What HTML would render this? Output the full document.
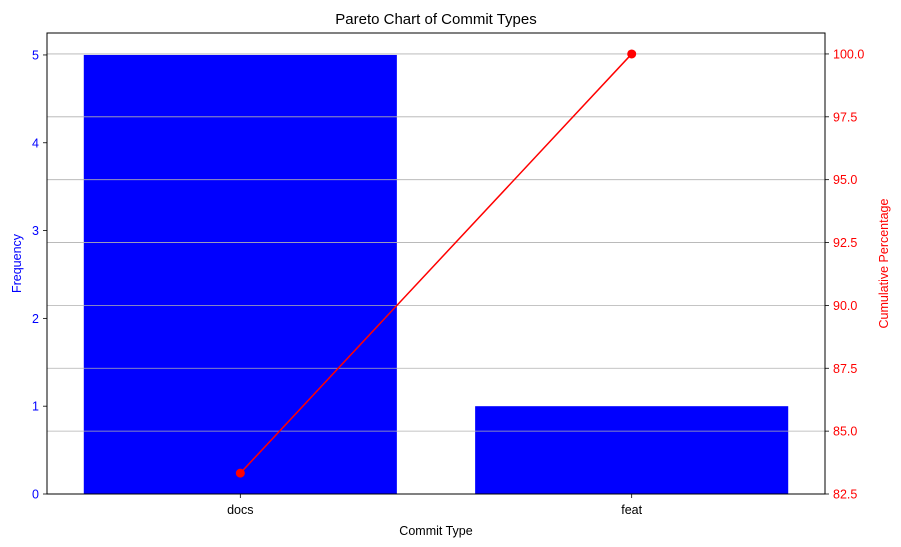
<!DOCTYPE html>
<html><head><meta charset="utf-8"><style>
body{margin:0;background:#fff;}
svg{display:block;font-family:"Liberation Sans","DejaVu Sans",sans-serif;}
</style></head><body>
<svg id="chart" width="901" height="547" viewBox="0 0 901 547"></svg>
<script>
const categories = ["docs", "feat"];
const frequencies = [5, 1];
const cumulativePct = [83.33, 100];
const leftTicks = [0, 1, 2, 3, 4, 5];
const rightTicks = [82.5, 85.0, 87.5, 90.0, 92.5, 95.0, 97.5, 100.0];

const svg = document.getElementById('chart');
const NS = 'http://www.w3.org/2000/svg';
const L = 47, R = 825, T = 33, B = 494;
const xMin = -0.494, xMax = 1.494;
const yLMin = 0, yLMax = 5.25;
const yRMin = 82.5, yRMax = 100.833;
const xS = v => L + (v - xMin) / (xMax - xMin) * (R - L);
const yL = v => B - (v - yLMin) / (yLMax - yLMin) * (B - T);
const yR = v => B - (v - yRMin) / (yRMax - yRMin) * (B - T);

function mk(tag, attrs, text) {
  const e = document.createElementNS(NS, tag);
  for (const k in attrs) e.setAttribute(k, attrs[k]);
  if (text !== undefined) e.textContent = text;
  svg.appendChild(e);
  return e;
}

categories.forEach((c, i) => {
  const b = mk('rect', {x: xS(i - 0.4), y: yL(frequencies[i]), width: xS(i + 0.4) - xS(i - 0.4), height: B - yL(frequencies[i]), fill: '#0000ff'});
  
  
});

rightTicks.forEach(t => {
  const g = mk('line', {x1: L, x2: R, y1: yR(t), y2: yR(t), stroke: '#b0b0b0', 'stroke-width': 0.8});
  
  
});

const pts = cumulativePct.map((v, i) => xS(i) + ',' + yR(v)).join(' ');
const pl = mk('polyline', {points: pts, fill: 'none', stroke: '#ff0000', 'stroke-width': 1.5});


cumulativePct.forEach((v, i) => {
  const c = mk('circle', {cx: xS(i), cy: yR(v), r: 4.5, fill: '#ff0000'});
  
  
});

const fr = mk('rect', {x: L, y: T, width: R - L, height: B - T, fill: 'none', stroke: '#000', 'stroke-width': 1});



leftTicks.forEach(t => {
  const y = yL(t);
  mk('line', {x1: L - 4, x2: L, y1: y, y2: y, stroke: '#000', 'stroke-width': 0.8});
  const tx = mk('text', {x: L - 8, y: y + 4.5, 'text-anchor': 'end', 'font-size': 12.5, fill: '#0000ff'}, String(t));
  
  
});
rightTicks.forEach(t => {
  const y = yR(t);
  mk('line', {x1: R, x2: R + 4, y1: y, y2: y, stroke: '#000', 'stroke-width': 0.8});
  const tx = mk('text', {x: R + 8, y: y + 4.5, 'text-anchor': 'start', 'font-size': 12.5, fill: '#ff0000'}, t.toFixed(1));
  
  
});
categories.forEach((c, i) => {
  const x = xS(i);
  mk('line', {x1: x, x2: x, y1: B, y2: B + 4, stroke: '#000', 'stroke-width': 0.8});
  const tx = mk('text', {x: x, y: B + 20, 'text-anchor': 'middle', 'font-size': 12.5, fill: '#000'}, c);
  
  
});

const ttl = mk('text', {x: (L + R) / 2, y: 24, 'text-anchor': 'middle', 'font-size': 15, fill: '#000'}, 'Pareto Chart of Commit Types');


const xt = mk('text', {x: (L + R) / 2, y: 535, 'text-anchor': 'middle', 'font-size': 12.5, fill: '#000'}, 'Commit Type');


const ylt = mk('text', {x: 0, y: 0, 'text-anchor': 'middle', 'font-size': 12.5, fill: '#0000ff', transform: 'translate(21,' + ((T + B) / 2) + ') rotate(-90)'}, 'Frequency');


const yrt = mk('text', {x: 0, y: 0, 'text-anchor': 'middle', 'font-size': 12.5, fill: '#ff0000', transform: 'translate(888,' + ((T + B) / 2) + ') rotate(-90)'}, 'Cumulative Percentage');


</script>
</body></html>
